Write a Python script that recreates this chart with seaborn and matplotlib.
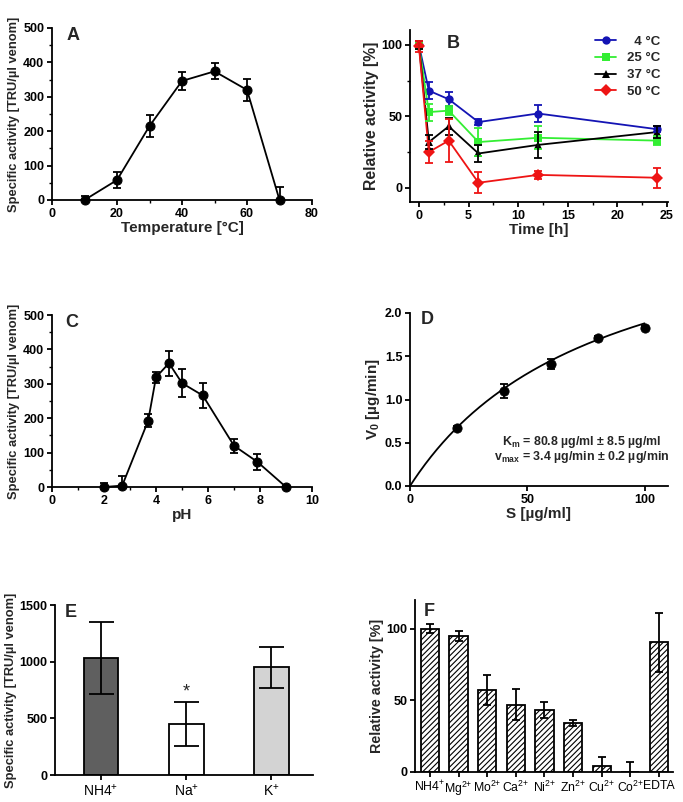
import numpy as np
import pandas as pd
import matplotlib
matplotlib.use("Agg")
import matplotlib.pyplot as plt
import seaborn as sns
from matplotlib.ticker import MultipleLocator, FormatStrFormatter

# ---------------- data ----------------
# A: temperature profile
temp_c = [10, 20, 30, 40, 50, 60, 70]
temp_act = [0, 58, 215, 346, 374, 320, 0]
temp_err = [13, 22, 32, 25, 23, 32, 37]

# B: stability over time
time_h = [0, 1, 3, 6, 12, 24]
b_labels = ["  4 °C", "25 °C", "37 °C", "50 °C"]
b_4 = [100, 68, 62, 46, 52, 41]
b_4_err = [3, 6, 5, 2, 6, 2]
b_25 = [100, 53, 54, 32, 35, 33]
b_25_err = [3, 6, 3, 10, 8, 3]
b_37 = [100, 32, 43, 24, 30, 39]
b_37_err = [3, 5, 6, 6, 9, 4]
b_50 = [99, 25, 33, 3.5, 9, 7]
b_50_err = [4, 8, 15, 7.5, 3, 7]
b_colors = ["#1414B4", "#33EE33", "#000000", "#EE1414"]
b_markers = ["o", "s", "^", "D"]

# C: pH profile
ph = [2, 2.7, 3.7, 4, 4.5, 5, 5.8, 7, 7.9, 9]
ph_act = [0, 4, 193, 319, 360, 302, 266, 120, 73, 0]
ph_err = [12, 27, 18, 16, 36, 40, 35, 20, 23, 0]

# D: kinetics
s_conc = [20, 40, 60, 80, 100]
v0 = [0.67, 1.10, 1.41, 1.71, 1.83]
v0_err = [0.02, 0.08, 0.06, 0.02, 0.02]
km = 80.8
vmax = 3.4

# E: monovalent ions
e_ions = ["NH4$^{+}$", "Na$^{+}$", "K$^{+}$"]
e_act = [1035, 450, 950]
e_err = [318, 193, 183]
e_colors = ["#5f5f5f", "#ffffff", "#d3d3d3"]

# F: divalent ions
f_ions = ["NH4$^{+}$", "Mg$^{2{+}}$", "Mo$^{2{+}}$", "Ca$^{2{+}}$", "Ni$^{2{+}}$",
          "Zn$^{2{+}}$", "Cu$^{2{+}}$", "Co$^{2{+}}$", "EDTA"]
f_act = [100, 95, 57.5, 47, 43.5, 34, 4.5, 0, 90.5]
f_err = [3, 3.5, 10.5, 11, 5.5, 2, 6, 7, 20.5]

# ---------------- style ----------------
sns.set_theme(style="ticks")
plt.rcParams["font.family"] = ["Liberation Sans", "DejaVu Sans"]
plt.rcParams["mathtext.default"] = "regular"
plt.rcParams["axes.linewidth"] = 1.3
plt.rcParams["xtick.major.width"] = 1.3
plt.rcParams["ytick.major.width"] = 1.3
plt.rcParams["xtick.minor.width"] = 1.0
plt.rcParams["ytick.minor.width"] = 1.0
plt.rcParams["xtick.major.size"] = 3.5
plt.rcParams["ytick.major.size"] = 3.5
plt.rcParams["xtick.minor.size"] = 2.0
plt.rcParams["ytick.minor.size"] = 2.0
plt.rcParams["hatch.linewidth"] = 0.8

TICK = 9
XLAB = 11
LET = 13

fig = plt.figure(figsize=(6.83, 8.02), dpi=100)
W, H = 683, 802


def add_ax(l, r, t, b):
    return fig.add_axes([l / W, 1 - b / H, (r - l) / W, (b - t) / H])


def style(ax):
    sns.despine(ax=ax)
    ax.tick_params(axis="both", which="both", direction="out", labelsize=TICK,
                   colors="black", pad=2)
    for lab in ax.get_xticklabels() + ax.get_yticklabels():
        lab.set_fontweight("bold")
    for s in ("left", "bottom"):
        ax.spines[s].set_color("black")


ekw = dict(fmt="none", ecolor="black", elinewidth=1.3, capsize=3, capthick=1.3)

# ---------- A ----------
axA = add_ax(52, 312, 28, 200)
dfA = pd.DataFrame({"T": temp_c, "act": temp_act})
sns.lineplot(data=dfA, x="T", y="act", ax=axA, color="black", marker="o",
             markersize=6.5, linewidth=1.3, markeredgecolor="black", clip_on=False)
axA.errorbar(temp_c, temp_act, yerr=temp_err, **ekw)
axA.set_xlim(0, 80)
axA.set_ylim(0, 500)
axA.set_xticks([0, 20, 40, 60, 80])
axA.set_yticks([0, 100, 200, 300, 400, 500])
axA.xaxis.set_minor_locator(MultipleLocator(10))
axA.yaxis.set_minor_locator(MultipleLocator(50))
axA.set_xlabel("Temperature [°C]", fontsize=XLAB, fontweight="bold", labelpad=1)
axA.set_ylabel("Specific activity [TRU/µl venom]", fontsize=9.3, fontweight="bold", labelpad=2)
style(axA)
axA.text(4.5, 478, "A", fontsize=LET, fontweight="bold", va="center")

# ---------- B ----------
axB = add_ax(410, 668, 30, 202)
rows = []
for lab, vals in zip(b_labels, [b_4, b_25, b_37, b_50]):
    for t, v in zip(time_h, vals):
        rows.append({"t": t, "v": v, "temp": lab})
dfB = pd.DataFrame(rows)
sns.lineplot(data=dfB, x="t", y="v", hue="temp", style="temp", ax=axB,
             palette=dict(zip(b_labels, b_colors)),
             markers=dict(zip(b_labels, b_markers)), dashes=False,
             linewidth=1.3, markersize=6, markeredgewidth=0)
for vals, errs, c in zip([b_4, b_25, b_37, b_50], [b_4_err, b_25_err, b_37_err, b_50_err], b_colors):
    axB.errorbar(time_h, vals, yerr=errs, fmt="none", ecolor=c, elinewidth=1.3,
                 capsize=3, capthick=1.3)
axB.set_xlim(-0.9, 25.1)
axB.set_ylim(-10, 110.5)
axB.set_xticks([0, 5, 10, 15, 20, 25])
axB.set_yticks([0, 50, 100])
axB.xaxis.set_minor_locator(MultipleLocator(2.5))
axB.yaxis.set_minor_locator(MultipleLocator(25))
axB.set_xlabel("Time [h]", fontsize=XLAB, fontweight="bold", labelpad=1)
axB.set_ylabel("Relative activity [%]", fontsize=11.3, fontweight="bold", labelpad=2)
style(axB)
leg = axB.legend(loc="upper right", frameon=False, fontsize=9.5,
                 handlelength=1.6, handletextpad=0.8, labelspacing=0.35,
                 borderaxespad=0.0, bbox_to_anchor=(0.99, 1.0), title=None)
for t in leg.get_texts():
    t.set_fontweight("bold")
axB.text(2.8, 101, "B", fontsize=LET, fontweight="bold", va="center")

# ---------- C ----------
axC = add_ax(52, 312, 315, 487)
dfC = pd.DataFrame({"pH": ph, "act": ph_act})
sns.lineplot(data=dfC, x="pH", y="act", ax=axC, color="black", marker="o",
             markersize=6.5, linewidth=1.3, markeredgecolor="black", clip_on=False)
axC.errorbar(ph, ph_act, yerr=ph_err, **ekw)
axC.set_xlim(0, 10)
axC.set_ylim(0, 500)
axC.set_xticks([0, 2, 4, 6, 8, 10])
axC.set_yticks([0, 100, 200, 300, 400, 500])
axC.xaxis.set_minor_locator(MultipleLocator(1))
axC.yaxis.set_minor_locator(MultipleLocator(50))
axC.set_xlabel("pH", fontsize=XLAB, fontweight="bold", labelpad=1)
axC.set_ylabel("Specific activity [TRU/µl venom]", fontsize=9.3, fontweight="bold", labelpad=2)
style(axC)
axC.text(0.5, 478, "C", fontsize=LET, fontweight="bold", va="center")

# ---------- D ----------
axD = add_ax(410, 668, 313, 486)
dfD = pd.DataFrame({"S": s_conc, "V": v0})
sns.scatterplot(data=dfD, x="S", y="V", ax=axD, color="black", s=45,
                edgecolor="black", zorder=3)
axD.errorbar(s_conc, v0, yerr=v0_err, **ekw)
s_fit = np.linspace(0, 100, 200)
axD.plot(s_fit, vmax * s_fit / (km + s_fit), color="black", linewidth=1.3,
         clip_on=False)
axD.set_xlim(0, 110)
axD.set_ylim(0, 2.0)
axD.set_xticks([0, 50, 100])
axD.set_yticks([0, 0.5, 1.0, 1.5, 2.0])
axD.yaxis.set_major_formatter(FormatStrFormatter("%.1f"))
axD.set_xlabel("S [µg/ml]", fontsize=XLAB, fontweight="bold", labelpad=1)
axD.set_ylabel("V$_0$ [µg/min]", fontsize=11, fontweight="bold", labelpad=2)
style(axD)
axD.text(4.5, 1.92, "D", fontsize=LET, fontweight="bold", va="center")
axD.text(0.667, 0.254, "K$_m$ = 80.8 µg/ml ± 8.5 µg/ml", transform=axD.transAxes,
         ha="center", va="center", fontsize=8.9, fontweight="bold")
axD.text(0.667, 0.168, "v$_{max}$ = 3.4 µg/min ± 0.2 µg/min", transform=axD.transAxes,
         ha="center", va="center", fontsize=8.9, fontweight="bold")

# ---------- E ----------
axE = add_ax(55, 313, 605, 775)
dfE = pd.DataFrame({"ion": e_ions, "act": e_act})
sns.barplot(data=dfE, x="ion", y="act", hue="ion", ax=axE,
            palette=dict(zip(e_ions, e_colors)), legend=False, width=0.41,
            edgecolor="black", linewidth=1.3, errorbar=None)
axE.errorbar(range(len(e_ions)), e_act, yerr=e_err, fmt="none", ecolor="black",
             elinewidth=1.3, capsize=9, capthick=1.3)
axE.set_xlim(-0.54, 2.49)
axE.set_ylim(0, 1500)
axE.set_yticks([0, 500, 1000, 1500])
axE.set_xlabel("")
axE.set_ylabel("Specific activity [TRU/µl venom]", fontsize=9.3, fontweight="bold", labelpad=2)
style(axE)
for lab in axE.get_xticklabels():
    lab.set_fontweight("normal")
    lab.set_fontsize(10)
axE.text(1, e_act[1] + e_err[1] + 15, "*", ha="center", va="bottom", fontsize=13)
axE.text(-0.42, 1435, "E", fontsize=LET, fontweight="bold", va="center")

# ---------- F ----------
axF = add_ax(415, 673, 600, 772)
dfF = pd.DataFrame({"ion": f_ions, "act": f_act})
sns.barplot(data=dfF, x="ion", y="act", ax=axF, color="white", width=0.64,
            edgecolor="black", linewidth=1.3, errorbar=None)
for p in axF.patches:
    p.set_facecolor("white")
    p.set_hatch("//////")
axF.errorbar(range(len(f_ions)), f_act, yerr=f_err, fmt="none", ecolor="black",
             elinewidth=1.3, capsize=3, capthick=1.3)
axF.set_xlim(-0.52, 8.49)
axF.set_ylim(0, 120)
axF.set_yticks([0, 50, 100])
axF.set_xlabel("")
axF.set_ylabel("Relative activity [%]", fontsize=10.3, fontweight="bold", labelpad=2)
style(axF)
for lab in axF.get_xticklabels():
    lab.set_fontweight("normal")
    lab.set_fontsize(8.8)
axF.text(-0.2, 112, "F", fontsize=LET, fontweight="bold", va="center")

fig.savefig("out.png", dpi=100)
